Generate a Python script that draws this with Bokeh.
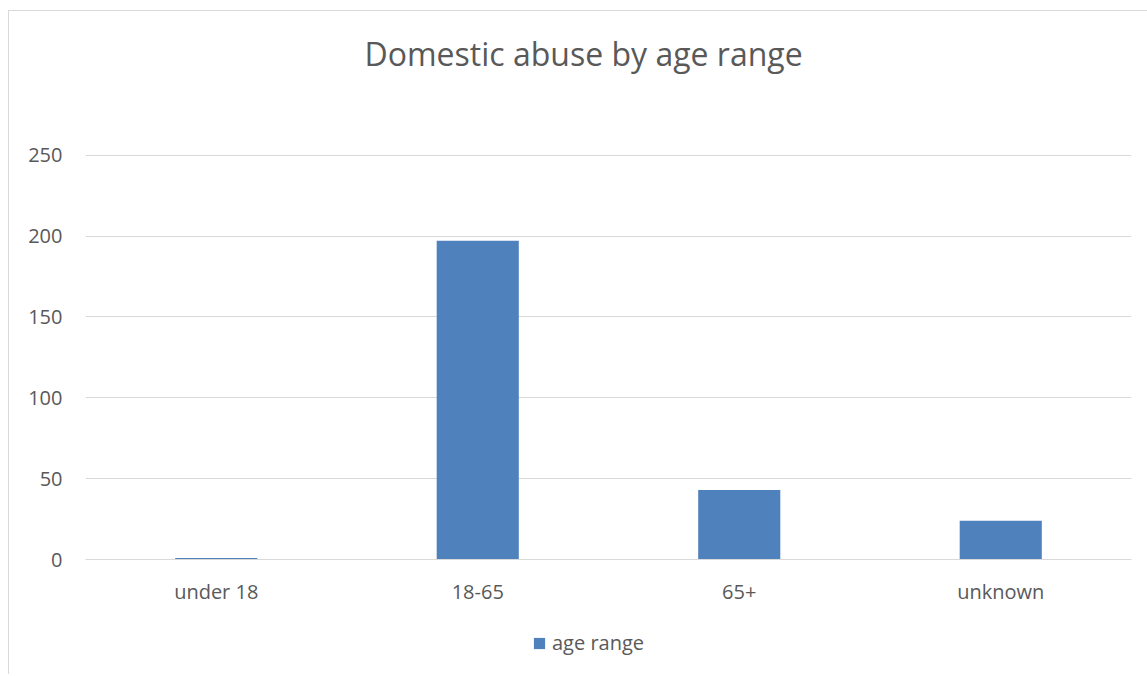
from bokeh.plotting import figure
from bokeh.models import (Legend, LegendItem, FactorRange, Range1d,
                          FixedTicker, ColumnDataSource, Title)
from bokeh.embed import file_html
from bokeh.resources import INLINE

# Counts by age range
categories = ["under 18", "18-65", "65+", "unknown"]
counts = [1, 197, 43, 24]
y_ticks = [0, 50, 100, 150, 200, 250]

TEXT = "#595959"
GRID = "#d9d9d9"
BAR = "#4f81bd"
FONT = "Open Sans"

source = ColumnDataSource(data=dict(cat=categories, n=counts))

# the plot area reaches down past the category labels so the legend fits inside it
p = figure(
    frame_width=1046, frame_height=521,
    x_range=FactorRange(*categories, range_padding=0),
    y_range=Range1d(-71, 251),
    output_backend="svg", toolbar_location=None,
    min_border_left=76, min_border_right=16,
    min_border_top=142, min_border_bottom=0,
    title="Domestic abuse by age range",
)
p.background_fill_color = "white"
p.border_fill_color = "white"
p.outline_line_color = None

# light frame around the whole chart
p.styles = {
    "margin-left": "8px", "margin-top": "10px",
    "border-left": "1px solid #d9d9d9", "border-top": "1px solid #d9d9d9",
}

bars = p.vbar(x="cat", top="n", bottom=0, width=0.314, source=source,
              fill_color=BAR, line_color=None)

# title, kept well above the plot area by an empty spacer title
p.title.align = "left"
p.title.offset = 279
p.title.standoff = 0
p.title.text_font = FONT
p.title.text_font_size = "32px"
p.title.text_font_style = "normal"
p.title.text_color = TEXT
p.add_layout(Title(text=" ", text_font_size="1px", standoff=76), "above")

# y axis: labels only, horizontal gridlines
p.yaxis.ticker = FixedTicker(ticks=y_ticks)
p.yaxis.axis_line_color = None
p.yaxis.major_tick_line_color = None
p.yaxis.minor_tick_line_color = None
p.yaxis.major_tick_out = 0
p.yaxis.major_tick_in = 0
p.yaxis.major_label_standoff = 23
p.yaxis.major_label_text_font = FONT
p.yaxis.major_label_text_font_size = "20px"
p.yaxis.major_label_text_color = TEXT

# category axis sits on the zero line
p.xaxis.fixed_location = 0
p.xaxis.axis_line_color = GRID
p.xaxis.major_tick_line_color = None
p.xaxis.minor_tick_line_color = None
p.xaxis.major_tick_out = 0
p.xaxis.major_tick_in = 0
p.xaxis.major_label_standoff = 18
p.xaxis.major_label_text_font = FONT
p.xaxis.major_label_text_font_size = "20px"
p.xaxis.major_label_text_color = TEXT

p.xgrid.grid_line_color = None
p.ygrid.grid_line_color = GRID
p.ygrid.grid_line_width = 1

# legend under the category labels
legend = Legend(
    items=[LegendItem(label="age range", renderers=[bars])],
    orientation="horizontal", location=(447, 18),
    label_text_font=FONT, label_text_font_size="20px",
    label_text_color=TEXT, glyph_width=14, glyph_height=14,
    label_standoff=6, border_line_color=None, background_fill_alpha=0,
    padding=0, margin=0,
)
p.add_layout(legend, "center")

open("out.html", "w").write(file_html(p, INLINE))
